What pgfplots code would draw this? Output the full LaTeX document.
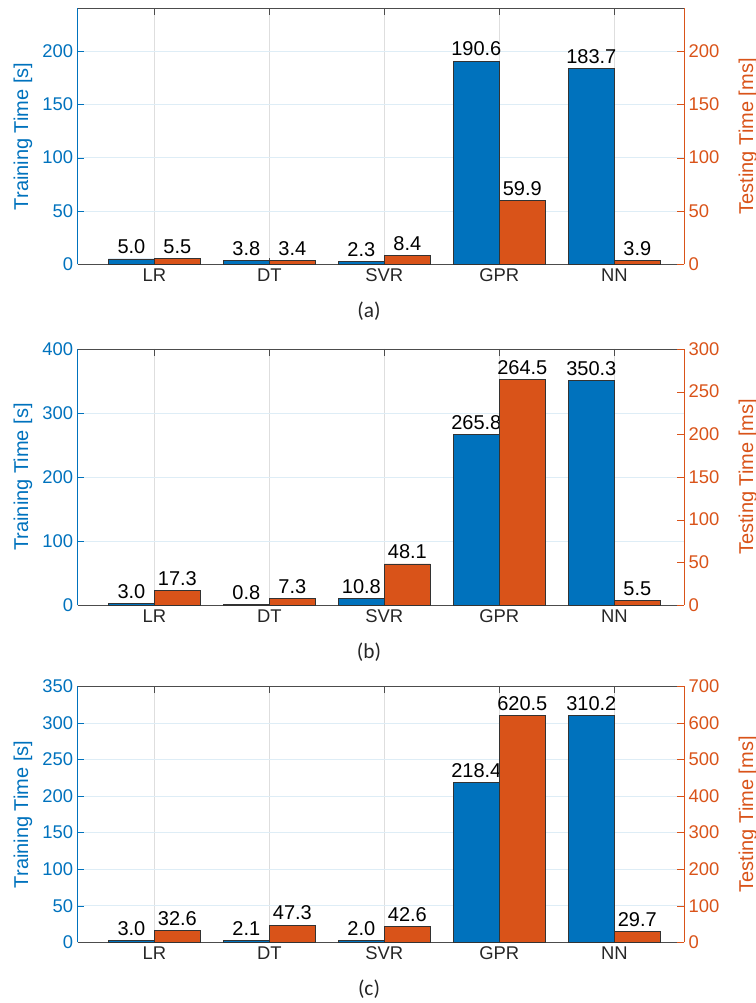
\documentclass[border=0pt]{standalone}
\usepackage{pgfplots}
\usepackage{pgfplotstable}
\pgfplotsset{compat=1.18}
\usepackage{fontspec}
\setmainfont{Liberation Sans}
\newfontfamily\capfont{Carlito}
\definecolor{mblue}{RGB}{0,114,189}
\definecolor{morange}{RGB}{217,83,25}

\pgfplotstableread{
x tr te
1 5.0 5.5
2 3.8 3.4
3 2.3 8.4
4 190.6 59.9
5 183.7 3.9
}\dataA
\pgfplotstableread{
x tr te
1 3.0 17.3
2 0.8 7.3
3 10.8 48.1
4 265.8 264.5
5 350.3 5.5
}\dataB
\pgfplotstableread{
x tr te
1 3.0 32.6
2 2.1 47.3
3 2.0 42.6
4 218.4 620.5
5 310.2 29.7
}\dataC

\pgfplotsset{
  /pgf/number format/assume math mode=true,
  common/.style={scale only axis, width=454.7pt, height=192pt,
    xmin=0.333, xmax=5.606, ymin=0, clip=false,
    tick align=inside, major tick length=5pt,
    tick label style={font=\fontsize{13.8}{14}\selectfont},
    label style={font=\fontsize{15}{16}\selectfont},
    anchor=south west},
  leftax/.style={common, axis x line*=box, axis y line*=left,
    xtick={1,2,3,4,5}, xticklabels={LR,DT,SVR,GPR,NN},
    x tick label style={black!85},
    x axis line style={black!70}, x tick style={black!70},
    y axis line style={mblue}, y tick style={mblue},
    y tick label style={mblue},
    ylabel={Training Time [s]},
    ylabel style={mblue, at={(axis description cs:-0.0902,0.5)}, anchor=center},
    ymajorgrids, xmajorgrids,
    major y grid style={mblue!13}, major x grid style={black!13}},
  rightax/.style={common, axis x line=none, axis y line*=right,
    xtick=\empty,
    y axis line style={morange}, y tick style={morange},
    y tick label style={morange},
    ylabel={Testing Time [ms]},
    ylabel style={morange, at={(axis description cs:1.1055,0.5)}, anchor=center}},
  lab/.style={nodes near coords={\pgfmathprintnumber[fixed,fixed zerofill,precision=1]{\pgfplotspointmeta}},
    every node near coord/.append style={black, font=\fontsize{15}{16}\selectfont}},
  blbar/.style={ybar, bar width=0.4, bar shift=0pt, fill=mblue, draw=black!80, line width=0.6pt, lab},
  orbar/.style={ybar, bar width=0.4, bar shift=0pt, fill=morange, draw=black!80, line width=0.6pt, lab},
}

\begin{document}
\begin{tikzpicture}
\useasboundingbox (0,0) rectangle (567pt,752.25pt);

% ---- (a)
\begin{axis}[leftax, at={(58.28pt,554.0pt)}, ymax=240, ytick={0,50,...,200}]
\addplot[blbar] table[x expr=\thisrow{x}-0.2,y=tr]{\dataA};
\end{axis}
\begin{axis}[rightax, at={(58.28pt,554.0pt)}, ymax=240, ytick={0,50,...,200}]
\addplot[orbar] table[x expr=\thisrow{x}+0.2,y=te]{\dataA};
\end{axis}

% ---- (b)
\begin{axis}[leftax, at={(58.28pt,298.5pt)}, ymax=400, ytick={0,100,...,400}]
\addplot[blbar] table[x expr=\thisrow{x}-0.2,y=tr]{\dataB};
\end{axis}
\begin{axis}[rightax, at={(58.28pt,298.5pt)}, ymax=300, ytick={0,50,...,300}]
\addplot[orbar] table[x expr=\thisrow{x}+0.2,y=te]{\dataB};
\end{axis}

% ---- (c)
\begin{axis}[leftax, at={(58.28pt,45.5pt)}, ymax=350, ytick={0,50,...,350}]
\addplot[blbar] table[x expr=\thisrow{x}-0.2,y=tr]{\dataC};
\end{axis}
\begin{axis}[rightax, at={(58.28pt,45.5pt)}, ymax=700, ytick={0,100,...,700}]
\addplot[orbar] table[x expr=\thisrow{x}+0.2,y=te]{\dataC};
\end{axis}

\node[font=\capfont\fontsize{16}{17}\selectfont, text=black!85] at (276.75pt,519pt) {(a)};
\node[font=\capfont\fontsize{16}{17}\selectfont, text=black!85] at (276.75pt,263.25pt) {(b)};
\node[font=\capfont\fontsize{16}{17}\selectfont, text=black!85] at (276.75pt,10.5pt) {(c)};
\end{tikzpicture}
\end{document}
